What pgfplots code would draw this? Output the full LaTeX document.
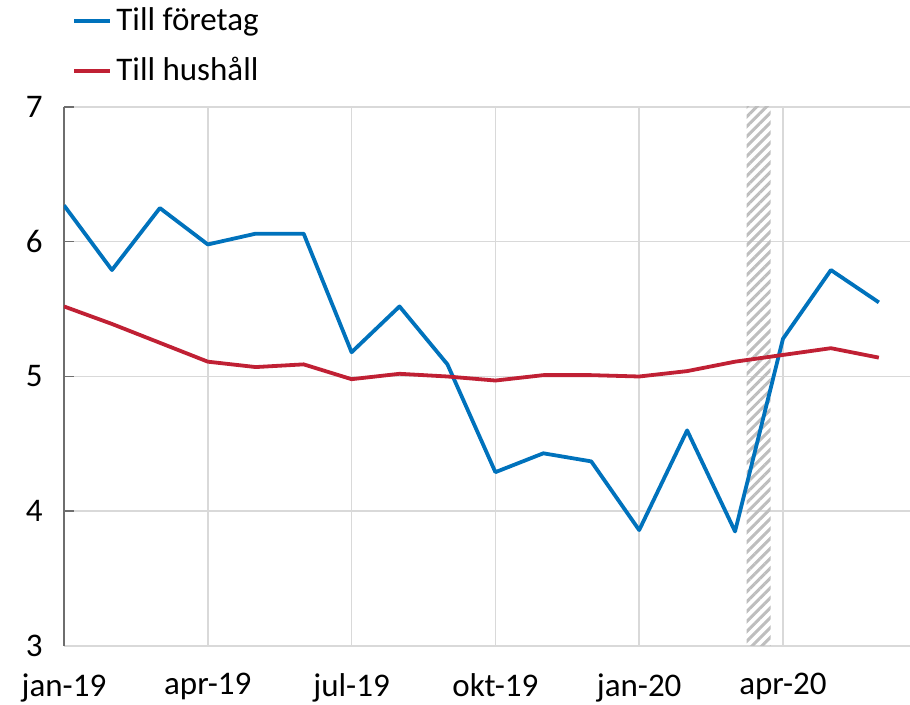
\documentclass[border=0pt]{standalone}
\usepackage{fontspec}
\setmainfont{Carlito}
\usepackage{pgfplots}
\pgfplotsset{compat=1.18}
\usetikzlibrary{patterns.meta}
\definecolor{rbblue}{RGB}{0,114,188}
\definecolor{rbred}{RGB}{192,32,52}
\definecolor{gridgray}{RGB}{217,217,217}
\definecolor{axgray}{RGB}{110,110,110}
\definecolor{hatchgray}{RGB}{190,190,190}
\begin{document}
\fontsize{16.5pt}{19pt}\selectfont
\begin{tikzpicture}
\path[use as bounding box] (-32pt,-29.5pt) rectangle (423pt,323pt);
\begin{axis}[
  at={(0,0)}, anchor=south west,
  scale only axis, width=423pt, height=269.5pt,
  xmin=0, xmax=17.65, ymin=3, ymax=7,
  axis x line*=bottom, axis y line*=left,
  xtick={0,3,6,9,12,15},
  xticklabels={jan-19,apr-19,jul-19,okt-19,jan-20,apr-20},
  ytick={3,4,5,6,7},
  grid=major, grid style={gridgray, line width=0.75pt},
  x axis line style={gridgray, line width=0.75pt},
  y axis line style={axgray, line width=0.75pt},
  xtick style={draw=none},
  ytick style={axgray, line width=0.75pt},
  tick align=inside, major tick length=5pt,
  tick label style={font=\fontsize{16.5pt}{19pt}\selectfont},
  /pgf/number format/assume math mode=true,
  xticklabel style={yshift=-8pt},
  yticklabel style={xshift=-5pt},
  legend style={at={(0,1)}, anchor=south west, xshift=4pt, yshift=8.5pt,
    draw=none, fill=none, inner sep=0pt, row sep=7pt,
    font=\fontsize{16.5pt}{19pt}\selectfont},
  legend cell align=left,
  legend image code/.code={\draw[#1, line width=2pt] (0pt,0pt) -- (18pt,0pt);},
]
\addplot[draw=none, forget plot, pattern={Lines[angle=45, distance=3.5pt, line width=1.5pt]}, pattern color=hatchgray]
  coordinates {(14.24,3) (14.74,3) (14.74,7) (14.24,7)} -- cycle;
\addplot[rbblue, line width=1.9pt, line join=round] coordinates {
(0,6.27) (1,5.79) (2,6.25) (3,5.98) (4,6.06) (5,6.06) (6,5.18) (7,5.52) (8,5.09)
(9,4.29) (10,4.43) (11,4.37) (12,3.86) (13,4.60) (14,3.85) (15,5.28) (16,5.79) (17,5.55)};
\addlegendentry{Till företag}
\addplot[rbred, line width=1.9pt, line join=round] coordinates {
(0,5.52) (1,5.39) (2,5.25) (3,5.11) (4,5.07) (5,5.09) (6,4.98) (7,5.02) (8,5.00)
(9,4.97) (10,5.01) (11,5.01) (12,5.00) (13,5.04) (14,5.11) (15,5.16) (16,5.21) (17,5.14)};
\addlegendentry{Till hushåll}
\end{axis}
\end{tikzpicture}
\end{document}
